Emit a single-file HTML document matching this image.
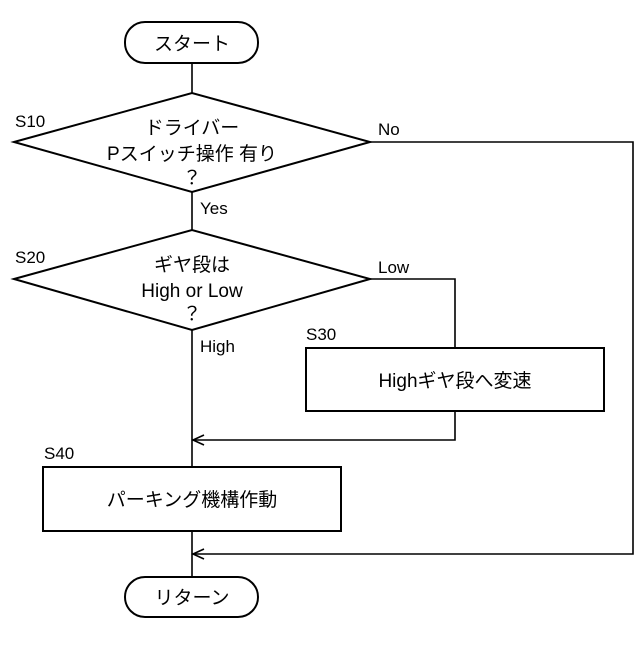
<!DOCTYPE html>
<html><head><meta charset="utf-8"><style>
html,body{margin:0;padding:0;background:#fff;}
svg text{font-family:"Liberation Sans","Noto Sans CJK JP",sans-serif;fill:#000;}
</style></head><body>
<svg width="640" height="640" viewBox="0 0 640 640" xmlns="http://www.w3.org/2000/svg">
<g fill="none" stroke="#000" stroke-width="2">
<rect x="125" y="22" width="133" height="41" rx="20" ry="20"/>
<polygon points="14,142 192,93 370,142 192,192"/>
<polygon points="14,279 192,230 370,279 192,330"/>
<rect x="306" y="348" width="298" height="63"/>
<rect x="43" y="467" width="298" height="64"/>
<rect x="125" y="577" width="133" height="40" rx="20" ry="20"/>
</g>
<g fill="none" stroke="#000" stroke-width="1.6">
<line x1="192" y1="63" x2="192" y2="93"/>
<line x1="192" y1="192" x2="192" y2="230"/>
<line x1="192" y1="330" x2="192" y2="467"/>
<line x1="192" y1="531" x2="192" y2="577"/>
<polyline points="370,142 633,142 633,554 192,554"/>
<polyline points="370,279 455,279 455,348"/>
<polyline points="455,411 455,440 192,440"/>
<polyline points="204,435 193,440 204,445"/>
<polyline points="204,549 193,554 204,559"/>
</g>
<g font-size="19" text-anchor="middle">
<text x="192" y="50">スタート</text>
<text x="192" y="134">ドライバー</text>
<text x="192" y="160">Pスイッチ操作 有り</text>
<text x="192" y="184">？</text>
<text x="192" y="271">ギヤ段は</text>
<text x="192" y="297">High or Low</text>
<text x="192" y="320">？</text>
<text x="455" y="387">Highギヤ段へ変速</text>
<text x="192" y="506">パーキング機構作動</text>
<text x="192" y="604">リターン</text>
</g>
<g font-size="17">
<text x="15" y="127">S10</text>
<text x="378" y="135">No</text>
<text x="200" y="214">Yes</text>
<text x="15" y="263">S20</text>
<text x="378" y="273">Low</text>
<text x="200" y="352">High</text>
<text x="306" y="340">S30</text>
<text x="44" y="459">S40</text>
</g>
</svg>
</body></html>
